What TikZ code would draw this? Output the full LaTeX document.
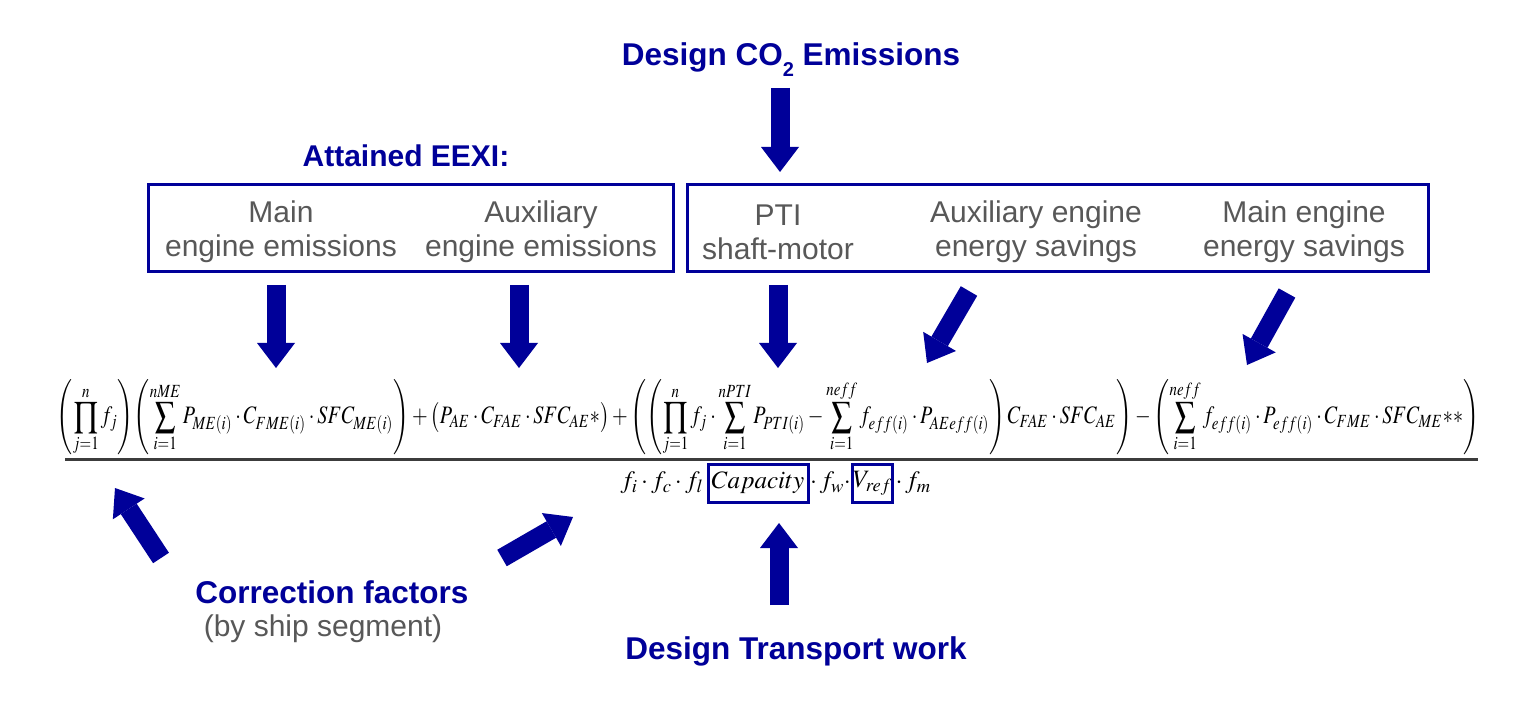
\documentclass[tikz,border=0pt]{standalone}
\usepackage{mathptmx}
\usepackage{fontspec}
\setmainfont{Liberation Sans}
\usetikzlibrary{arrows.meta,calc}
\definecolor{navy}{RGB}{0,0,153}
\definecolor{txtgray}{RGB}{88,88,88}
\definecolor{rulegray}{RGB}{60,60,60}
\begin{document}
\begin{tikzpicture}[x=1pt,y=-1pt,
  title/.style={text=navy,font=\fontsize{31.5}{36}\selectfont\bfseries,inner sep=0pt},
  lbl/.style={text=txtgray,font=\fontsize{30}{34}\selectfont,align=center,inner sep=0pt},
  groupbox/.style={draw=navy,line width=3pt,inner sep=0pt},
  mathbox/.style={draw=navy,line width=3pt,inner sep=0pt,minimum height=38pt},
  dentext/.style={inner sep=0pt,font=\fontsize{25}{30}\selectfont},
  blockarrow/.style={draw=navy,line width=19pt,
    -{Triangle[width=38pt,length=25pt,line width=0pt]}}
]
\useasboundingbox (0,0) rectangle (1521,711);
\fill[white] (0,0) rectangle (1521,711);

% titles and labels
\node[title] (co2) at (791,60) {Design CO\raisebox{-0.35em}{\fontsize{20}{20}\selectfont 2} Emissions};
\node[title,font=\fontsize{30}{34}\selectfont\bfseries] (eexi) at (406,156) {Attained EEXI:};
\node[title] (corr) at (332,592) {Correction factors};
\node[lbl] (seg) at (323,629) {(by ship segment)};
\node[title] (work) at (796,651) {Design Transport work};

% boxes
\node[groupbox,minimum width=525pt,minimum height=87pt] (lbox) at (410.5,228.5) {};
\node[groupbox,minimum width=741pt,minimum height=87pt] (rbox) at (1057.5,228.5) {};

\node[lbl] (me) at (281,232) {Main\\engine emissions};
\node[lbl] (ae) at (541,232) {Auxiliary\\engine emissions};
\node[lbl] (pti) at (778,232) {PTI\\shaft-motor};
\node[lbl] (aes) at (1036,232) {Auxiliary engine\\energy savings};
\node[lbl] (mes) at (1304,232) {Main engine\\energy savings};

% numerator
\node[inner sep=0pt] (num) at (768,418) {\resizebox*{1422pt}{76pt}{$\displaystyle
\left(\prod_{j=1}^{n} f_j\right)\!\left(\sum_{i=1}^{nME} P_{ME(i)}\cdot C_{FME(i)}\cdot SFC_{ME(i)}\right)
+\bigl(P_{AE}\cdot C_{FAE}\cdot SFC_{AE}{*}\bigr)
+\left(\left(\prod_{j=1}^{n} f_j\cdot\sum_{i=1}^{nPTI} P_{PTI(i)}-\sum_{i=1}^{neff} f_{eff(i)}\cdot P_{AEeff(i)}\right)C_{FAE}\cdot SFC_{AE}\right)
-\left(\sum_{i=1}^{neff} f_{eff(i)}\cdot P_{eff(i)}\cdot C_{FME}\cdot SFC_{ME}{*}{*}\right)$}};

% fraction line
\coordinate (fl) at (65,459);
\coordinate (fr) at (1478,459);
\draw[rulegray,line width=3pt] (fl) -- (fr);

% denominator
\node[mathbox,minimum width=100pt,dentext] (cap) at (758,483) {$Capacity$};
\node[mathbox,minimum width=37pt,dentext] (vref) at (872.5,483) {$V_{ref}$};
\node[dentext,anchor=east] (d1) at ([xshift=-3pt]cap.west) {$f_i\cdot f_c\cdot f_l$};
\node[dentext] (d2) at ($(cap.east)!0.5!(vref.west)$) {$\cdot\, f_w\cdot$};
\node[dentext,anchor=west] (d3) at ([xshift=2pt]vref.east) {$\cdot\, f_m$};

% arrows
\coordinate (a0s) at (780,88);   \coordinate (a0e) at (780,172);
\coordinate (a1s) at (276,285);  \coordinate (a1e) at (276,368);
\coordinate (a2s) at (519,285);  \coordinate (a2e) at (519,368);
\coordinate (a3s) at (778,285);  \coordinate (a3e) at (778,368);
\coordinate (a4s) at (969,291);  \coordinate (a4e) at (927,363);
\coordinate (a5s) at (1287,293); \coordinate (a5e) at (1247,365);
\coordinate (a6s) at (161,558);  \coordinate (a6e) at (115,488);
\coordinate (a7s) at (502,558);  \coordinate (a7e) at (573,517);
\coordinate (a8s) at (779,605);  \coordinate (a8e) at (779,523);
\foreach \k in {0,...,8}{\draw[blockarrow] (a\k s) -- (a\k e);}
\end{tikzpicture}
\end{document}
